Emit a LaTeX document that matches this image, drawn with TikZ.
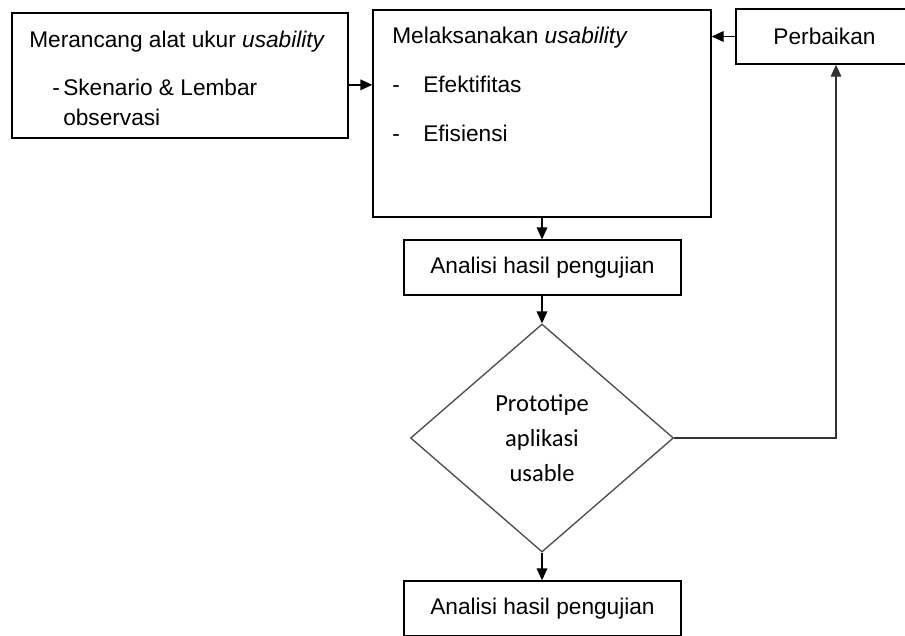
\documentclass[tikz,border=0pt]{standalone}
\usepackage{fontspec}
\setmainfont{Liberation Sans}
\newfontfamily\calibri{Carlito}
\usepackage{tikz}
\usetikzlibrary{arrows.meta}
\usetikzlibrary{shapes.geometric}
\tikzset{blok/.style = {draw, line width = 1pt, inner sep = 0, font = \fontsize{17}{20}\selectfont}}
\tikzset{tulis/.style = {anchor = base west, inner sep = 0, font = \fontsize{17}{20}\selectfont}}
\tikzset{panah/.style = {-{Triangle[length = 9pt, width = 8pt]}, line width = 1pt}}

\begin{document}
\begin{tikzpicture}[x = 0.75pt, y = -0.75pt]
      \useasboundingbox (0, 0) rectangle (905, 635);
      % kotak
      \node [blok, minimum width = 252pt, minimum height = 93.75pt] (rancang) at (180, 75.5) {};
      \node [blok, minimum width = 253.5pt, minimum height = 155.25pt] (laksana) at (542, 113.5) {};
      \node [blok, minimum width = 132.75pt, minimum height = 41.25pt] (perbaikan) at (824.5, 36.5) {Perbaikan};
      \node [blok, minimum width = 207.75pt, minimum height = 41.25pt] (analisi1) at (542.5, 267.5) {Analisi hasil pengujian};
      \node [draw = black!70, diamond, line width = 1pt, inner sep = 0, minimum width = 197.25pt, minimum height = 171pt,
        align = center, font = \calibri\fontsize{18.4}{26.25}\selectfont] (uji) at (542, 438) {Prototipe\\aplikasi\\usable};
      \node [blok, minimum width = 207.75pt, minimum height = 41.25pt] (analisi2) at (542.5, 608.5) {Analisi hasil pengujian};
      % isi kotak
      \node [tulis] (judul1) at (29, 48) {Merancang alat ukur \textit{usability}};
      \node [tulis] (strip1) at (52, 95) {-};
      \node [tulis] (skenario) at (63, 95) {Skenario \& Lembar};
      \node [tulis] (observasi) at (63, 125) {observasi};
      \node [tulis] (judul2) at (392, 43.3) {Melaksanakan \textit{usability}};
      \node [tulis] (strip2) at (392, 92.7) {-};
      \node [tulis] (efektif) at (423, 92.7) {Efektifitas};
      \node [tulis] (strip3) at (392, 141.7) {-};
      \node [tulis] (efisien) at (423, 141.7) {Efisiensi};
      % panah
      \draw [panah] ([yshift = -7pt]rancang.east) -- ([yshift = -7pt]rancang.east -| laksana.west);
      \draw [panah] (perbaikan.west) -- (perbaikan.west -| laksana.east);
      \draw [panah] (laksana.south) -- (laksana.south |- analisi1.north);
      \draw [panah] (uji.north |- analisi1.south) -- (uji.north);
      \draw [panah] (uji.south) -- (uji.south |- analisi2.north);
      \coordinate (belok) at (836, 438);
      \draw [panah, black!80] (uji.east) -- (belok) -- (belok |- perbaikan.south);
    \end{tikzpicture}
\end{document}
